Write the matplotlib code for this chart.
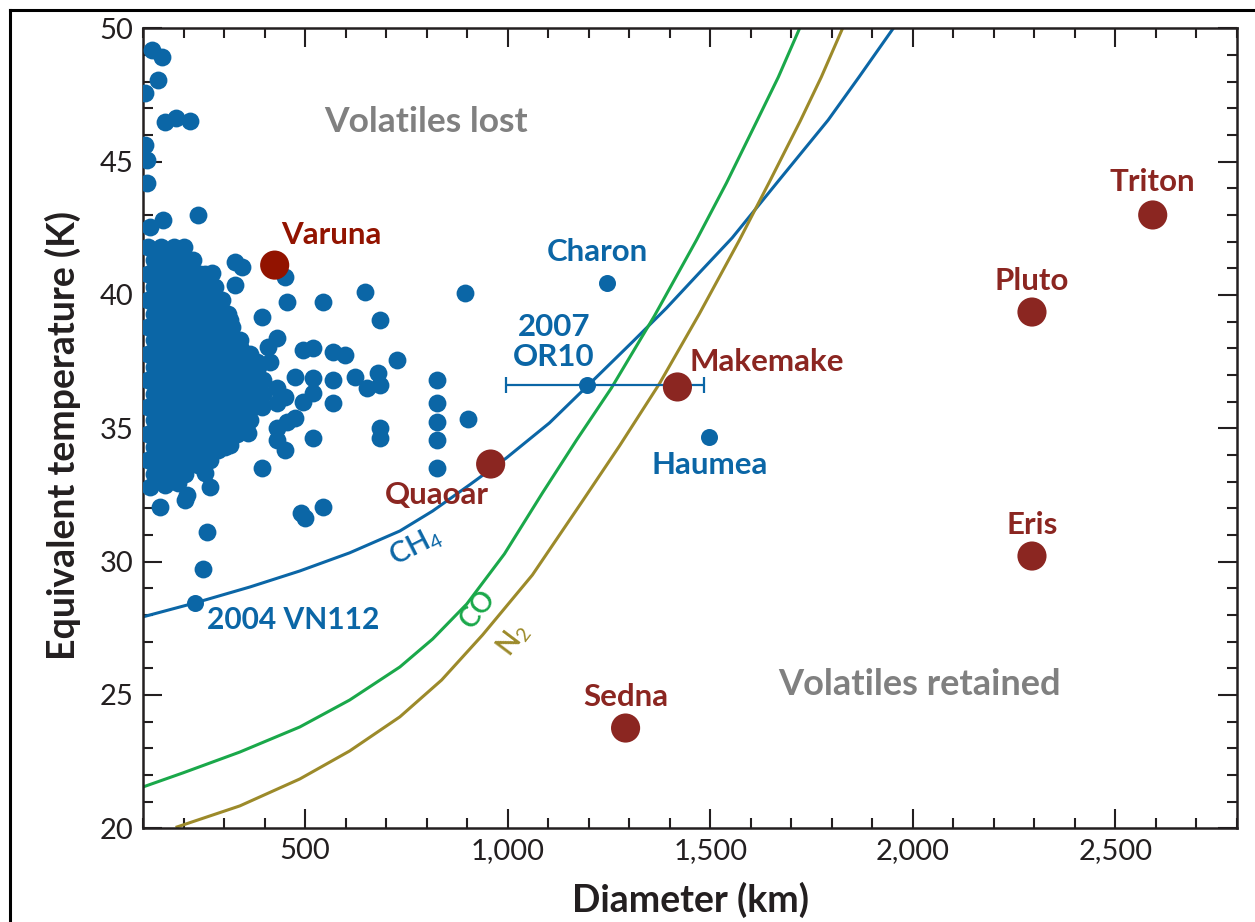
import matplotlib
matplotlib.use('Agg')
import matplotlib.pyplot as plt
from matplotlib.ticker import MultipleLocator, FuncFormatter
from matplotlib.lines import Line2D

plt.rcParams['font.family'] = ['Lato', 'DejaVu Sans']
plt.rcParams['mathtext.fontset'] = 'custom'
plt.rcParams['mathtext.rm'] = 'Lato'
plt.rcParams['mathtext.it'] = 'Lato:italic'
plt.rcParams['mathtext.bf'] = 'Lato:bold'

# ---------------- data ----------------
# volatile retention curves (diameter km, temperature K)
ch4_diam = [100, 228, 364, 487, 610, 734, 815, 906, 997, 1103, 1197, 1308, 1392,
            1473, 1554, 1670, 1791, 1867, 1954]
ch4_temp = [27.93, 28.45, 29.05, 29.65, 30.33, 31.15, 31.90, 32.88, 33.89, 35.20,
            36.59, 38.24, 39.51, 40.83, 42.14, 44.31, 46.56, 48.17, 50.05]
co_diam = [100, 199, 339, 487, 610, 734, 815, 899, 992, 1086, 1170, 1256, 1362,
           1466, 1540, 1614, 1668, 1722]
co_temp = [21.55, 22.08, 22.86, 23.80, 24.81, 26.05, 27.10, 28.41, 30.29, 32.58,
           34.56, 36.51, 39.21, 42.06, 44.20, 46.49, 48.17, 50.05]
n2_diam = [184, 339, 487, 610, 734, 837, 938, 1061, 1185, 1276, 1374, 1473, 1572,
           1646, 1722, 1774, 1828]
n2_temp = [20.05, 20.84, 21.85, 22.90, 24.18, 25.56, 27.25, 29.50, 32.28, 34.34,
           36.66, 39.29, 42.06, 44.24, 46.52, 48.17, 50.05]

# named large bodies (red)
big_names = ['Varuna', 'Quaoar', 'Makemake', 'Sedna', 'Pluto', 'Eris', 'Triton']
big_diam = [425, 958, 1419, 1291, 2294, 2294, 2592]
big_temp = [41.12, 33.66, 36.55, 23.76, 39.36, 30.21, 43.0]

# named small bodies (blue)
kbo_names = ['Charon', '2007\nOR10', 'Haumea', '2004 VN112']
kbo_diam = [1246, 1197, 1498, 228]
kbo_temp = [40.45, 36.63, 34.68, 28.45]
or10_err_low = 200
or10_err_high = 288

# other KBOs: loose points
kbo_diam_loose = [122, 147, 137, 105, 154, 181, 216, 105, 110, 110, 149, 117, 236,
                  327, 344, 270, 327, 450, 455, 544, 647, 393, 684, 894, 430, 408,
                  494, 519, 568, 598, 726, 413, 475, 519, 568, 623, 679, 684, 652,
                  825, 901, 430, 450, 430, 494, 519, 568, 825, 825, 825, 825, 684,
                  684, 475, 455, 430, 430, 450, 519, 359, 393, 314, 285, 265, 236,
                  253, 208, 186, 142, 117, 154, 489, 499, 544, 258, 248, 204, 245,
                  258, 297, 314, 297, 339, 381]
kbo_temp_loose = [49.19, 48.92, 48.06, 47.57, 46.49, 46.64, 46.52, 45.62, 45.06, 44.2,
                  42.81, 42.55, 43.0, 41.24, 41.05, 40.83, 40.38, 40.67, 39.74, 39.74,
                  40.12, 39.18, 39.07, 40.08, 38.39, 38.05, 37.94, 38.01, 37.86, 37.75,
                  37.56, 37.49, 36.93, 36.89, 36.82, 36.93, 37.08, 36.63, 36.52, 36.82,
                  35.35, 36.52, 36.18, 35.96, 35.99, 36.33, 35.96, 35.95, 35.24, 34.56,
                  33.51, 35.01, 34.64, 35.39, 35.24, 35.01, 34.56, 34.19, 34.64, 34.83,
                  33.51, 34.38, 34.19, 32.8, 33.63, 33.33, 32.5, 32.95, 32.05, 32.8,
                  32.88, 31.84, 31.62, 32.03, 31.11, 29.72, 32.32, 38.58, 39.18, 39.33,
                  39.07, 38.2, 38.05, 37.49]

# dense cluster of small KBOs, listed row by row (temperature, diameters)
cluster_temp = [41.8, 41.3, 40.8, 40.3, 39.8, 39.3, 38.8, 38.3, 37.8, 37.3,
                36.8, 36.3, 35.8, 35.3, 34.8, 34.3, 33.8, 33.3]
cluster_diam = [
    [112, 144, 176, 200],
    [128, 160, 192, 224],
    [112, 144, 176, 208, 240, 253],
    [128, 160, 192, 224, 256, 277],
    [112, 144, 176, 208, 240, 272, 295],
    [128, 160, 192, 224, 256, 288, 310],
    [112, 144, 176, 208, 240, 272, 304, 320],
    [128, 160, 192, 224, 256, 288, 320, 340],
    [112, 144, 176, 208, 240, 272, 304, 336, 364],
    [128, 160, 192, 224, 256, 288, 320, 352, 383],
    [112, 144, 176, 208, 240, 272, 304, 336, 368, 396],
    [128, 160, 192, 224, 256, 288, 320, 352, 384, 396],
    [112, 144, 176, 208, 240, 272, 304, 336, 368, 393],
    [128, 160, 192, 224, 256, 288, 320, 352, 364],
    [112, 144, 176, 208, 240, 272, 304, 332],
    [128, 160, 192, 224, 256, 288, 302],
    [112, 144, 176, 208, 240, 265],
    [128, 160, 192, 203],
]

x_ticks = [500, 1000, 1500, 2000, 2500]
y_ticks = [20, 25, 30, 35, 40, 45, 50]

# ---------------- style ----------------
BLUE = '#0b66a6'
RED = '#8b2621'
VARUNA_RED = '#921300'
GREEN = '#1aa84a'
OLIVE = '#9c8a2a'
GRAY = '#808080'
INK = '#231f20'

fig = plt.figure(figsize=(12.55, 9.22), dpi=100)
ax = fig.add_axes([143 / 1255, (922 - 828.3) / 922, (1237 - 143) / 1255, 800 / 922])

ax.set_xlim(100, 2800)
ax.set_ylim(20, 50)

# curves
ax.plot(ch4_diam, ch4_temp, color=BLUE, lw=2.2, zorder=2, solid_joinstyle='round')
ax.plot(co_diam, co_temp, color=GREEN, lw=2.2, zorder=2, solid_joinstyle='round')
ax.plot(n2_diam, n2_temp, color=OLIVE, lw=2.2, zorder=2, solid_joinstyle='round')

# KBO scatter
cl_x, cl_y = [], []
for t, row in zip(cluster_temp, cluster_diam):
    for d in row:
        cl_x.append(d)
        cl_y.append(t)
ax.scatter(cl_x, cl_y, s=165, color=BLUE, lw=0, zorder=3)
ax.scatter(kbo_diam_loose, kbo_temp_loose, s=165, color=BLUE, lw=0, zorder=3)
ax.scatter(kbo_diam, kbo_temp, s=150, color=BLUE, lw=0, zorder=3)

# error bar for 2007 OR10
ax.errorbar([kbo_diam[1]], [kbo_temp[1]], xerr=[[or10_err_low], [or10_err_high]],
            fmt='none', ecolor=BLUE, elinewidth=1.6, capsize=5.5, capthick=1.6, zorder=4)

# big bodies
big_colors = [VARUNA_RED] + [RED] * 6
ax.scatter(big_diam, big_temp, s=440, c=big_colors, lw=0, zorder=5)

# labels for named bodies (offsets in points)
big_offsets = [(41, 22), (-39, -22), (64, 18), (0, 22), (0, 22), (0, 22), (0, 24)]
for name, d, t, off, c in zip(big_names, big_diam, big_temp, big_offsets, big_colors):
    ax.annotate(name, (d, t), xytext=off, textcoords='offset points',
                ha='center', va='center', fontsize=22.5, fontweight='bold', color=c, zorder=6)

kbo_offsets = [(-7, 22), (-24, 31), (0, -20), (9, -12)]
kbo_ha = ['center', 'center', 'center', 'left']
kbo_size = [22.5, 22.5, 22.5, 21.5]
for name, d, t, off, ha, fs in zip(kbo_names, kbo_diam, kbo_temp, kbo_offsets, kbo_ha, kbo_size):
    ax.annotate(name, (d, t), xytext=off, textcoords='offset points',
                ha=ha, va='center', fontsize=fs, fontweight='bold', color=BLUE,
                linespacing=1.1, multialignment='center', zorder=6)

# region labels
ax.text(0.259, 0.883, 'Volatiles lost', transform=ax.transAxes, ha='center', va='center',
        fontsize=25.5, fontweight='bold', color=GRAY)
ax.text(0.710, 0.180, 'Volatiles retained', transform=ax.transAxes, ha='center', va='center',
        fontsize=26, fontweight='bold', color=GRAY)

# curve labels
ax.text(0.2495, 0.352, r'CH$_4$', transform=ax.transAxes, ha='center', va='center',
        fontsize=21, color=BLUE, rotation=27, rotation_mode='anchor', fontweight='semibold')
ax.text(0.306, 0.274, 'CO', transform=ax.transAxes, ha='center', va='center',
        fontsize=20, color=GREEN, rotation=52, rotation_mode='anchor', fontweight='semibold')
ax.text(0.339, 0.236, r'N$_2$', transform=ax.transAxes, ha='center', va='center',
        fontsize=20, color=OLIVE, rotation=53, rotation_mode='anchor', fontweight='semibold')

# axes styling
ax.set_xticks(x_ticks)
ax.set_yticks(y_ticks)
ax.xaxis.set_major_formatter(FuncFormatter(lambda v, p: f'{int(v):,}'))
ax.xaxis.set_minor_locator(MultipleLocator(100))
ax.yaxis.set_minor_locator(MultipleLocator(1))
ax.tick_params(which='both', direction='in', top=True, right=True, colors=INK,
               labelsize=21, width=1.5)
ax.tick_params(which='major', length=13.5)
ax.tick_params(which='minor', length=7)
ax.tick_params(axis='x', pad=7)
ax.tick_params(axis='y', pad=7)
for sp in ax.spines.values():
    sp.set_linewidth(1.8)
    sp.set_color(INK)

ax.set_xlabel('Diameter (km)', fontsize=27, fontweight='bold', color=INK)
ax.set_ylabel('Equivalent temperature (K)', fontsize=27, fontweight='bold', color=INK)
ax.xaxis.set_label_coords((690 - 143) / 1094, -(882 - 828.3) / 800)
ax.yaxis.set_label_coords(-(143 - 81) / 1094, (828.3 - 435) / 800)

# outer frame lines
fig.add_artist(Line2D([10 / 1255, 10 / 1255], [0, 1 - 10 / 922], color='black', lw=2.2,
                      transform=fig.transFigure, solid_capstyle='projecting'))
fig.add_artist(Line2D([10 / 1255, 1], [1 - 10 / 922, 1 - 10 / 922], color='black', lw=2.2,
                      transform=fig.transFigure, solid_capstyle='projecting'))

fig.savefig('out.png', dpi=100, facecolor='white')
